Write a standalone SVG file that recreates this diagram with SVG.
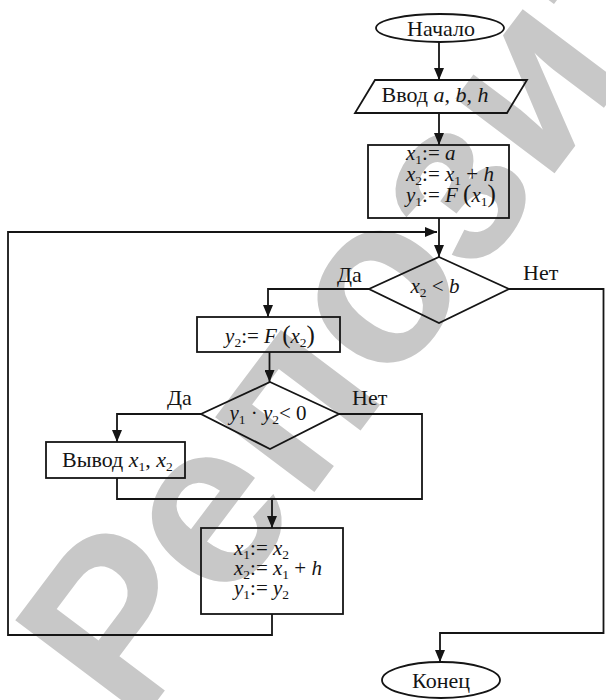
<svg xmlns="http://www.w3.org/2000/svg" width="606" height="700" viewBox="0 0 606 700">
<style>
.wm{font-family:"Liberation Sans",Arial,sans-serif;font-weight:bold;font-size:235px;fill:#c8c8c8}
.sh{fill:none;stroke:#151515;stroke-width:1.8}
.cn{fill:none;stroke:#151515;stroke-width:1.8}
text.t{font-family:"Liberation Serif","Times New Roman",serif;font-size:21px;fill:#151515}
text.l{font-size:22px}
.i{font-style:italic}
.s{font-size:13.5px}
.p{font-size:25px}
</style>
<defs>
<marker id="ah" markerUnits="userSpaceOnUse" markerWidth="12" markerHeight="10" refX="12" refY="5" orient="auto">
<path d="M0,0 L12,5 L0,10 z" fill="#151515"/>
</marker>
</defs>
<rect width="606" height="700" fill="#fff"/>
<text class="wm" transform="translate(135,730) rotate(-53)">Репозиторий БНТУ</text>
<g id="connectors">
<path class="cn" d="M439,42 V80" marker-end="url(#ah)"/>
<path class="cn" d="M439,113 V145" marker-end="url(#ah)"/>
<path class="cn" d="M439,218 V257" marker-end="url(#ah)"/>
<path class="cn" d="M272,614 V635 H8 V232 H437" marker-end="url(#ah)"/>
<path class="cn" d="M369,289 H268 V317" marker-end="url(#ah)"/>
<path class="cn" d="M509,289 H603.5 V633 H440 V662" marker-end="url(#ah)"/>
<path class="cn" d="M269.5,352 V382" marker-end="url(#ah)"/>
<path class="cn" d="M201,414 H117 V442" marker-end="url(#ah)"/>
<path class="cn" d="M339,414 H422 V499 H117 V478"/>
<path class="cn" d="M272,499 V528" marker-end="url(#ah)"/>
<text class="t l" x="337" y="282">Да</text>
<text class="t l" x="523" y="280">Нет</text>
<text class="t l" x="167" y="405">Да</text>
<text class="t l" x="352" y="405">Нет</text>
</g>
<g id="start">
<ellipse class="sh" cx="440" cy="28" rx="64" ry="14"/>
<text class="t l" x="441" y="36" text-anchor="middle">Начало</text>
</g>
<g id="input">
<polygon class="sh" points="375,80 527,80 507,113 355,113"/>
<text class="t l" x="435" y="102" text-anchor="middle">Ввод <tspan class="i">a</tspan>, <tspan class="i">b</tspan>, <tspan class="i">h</tspan></text>
</g>
<g id="init">
<rect class="sh" x="368" y="145" width="141" height="73"/>
<text class="t" x="406" y="160"><tspan class="i">x</tspan><tspan class="s" dy="4">1</tspan><tspan dy="-4">:= </tspan><tspan class="i">a</tspan></text>
<text class="t" x="406" y="181"><tspan class="i">x</tspan><tspan class="s" dy="4">2</tspan><tspan dy="-4">:= </tspan><tspan class="i">x</tspan><tspan class="s" dy="4">1</tspan><tspan dy="-4"> + </tspan><tspan class="i">h</tspan></text>
<text class="t" x="406" y="202"><tspan class="i">y</tspan><tspan class="s" dy="4">1</tspan><tspan dy="-4">:= </tspan><tspan class="i">F</tspan> <tspan class="p">(</tspan><tspan class="i">x</tspan><tspan class="s" dy="4">1</tspan><tspan class="p" dy="-4">)</tspan></text>
</g>
<g id="cond1">
<polygon class="sh" points="439,257 509,289 439,323 369,289"/>
<text class="t" x="435" y="293" text-anchor="middle"><tspan class="i">x</tspan><tspan class="s" dy="4">2</tspan><tspan dy="-4"> &lt; </tspan><tspan class="i">b</tspan></text>
</g>
<g id="calc">
<rect class="sh" x="197" y="317" width="143" height="35"/>
<text class="t" x="270" y="343" text-anchor="middle"><tspan class="i">y</tspan><tspan class="s" dy="4">2</tspan><tspan dy="-4">:= </tspan><tspan class="i">F</tspan> <tspan class="p">(</tspan><tspan class="i">x</tspan><tspan class="s" dy="4">2</tspan><tspan class="p" dy="-4">)</tspan></text>
</g>
<g id="cond2">
<polygon class="sh" points="270,382 339,414 270,449 201,414"/>
<text class="t" x="268" y="420" text-anchor="middle"><tspan class="i">y</tspan><tspan class="s" dy="4">1</tspan><tspan dy="-4"> · </tspan><tspan class="i">y</tspan><tspan class="s" dy="4">2</tspan><tspan dy="-4">&lt; 0</tspan></text>
</g>
<g id="output">
<rect class="sh" x="46" y="442" width="139" height="36"/>
<text class="t l" x="62" y="467">Вывод <tspan class="i">x</tspan><tspan class="s" dy="4">1</tspan><tspan dy="-4">,  </tspan><tspan class="i">x</tspan><tspan class="s" dy="4">2</tspan></text>
</g>
<g id="step">
<rect class="sh" x="201" y="528" width="142" height="86"/>
<text class="t" x="234" y="555"><tspan class="i">x</tspan><tspan class="s" dy="4">1</tspan><tspan dy="-4">:= </tspan><tspan class="i">x</tspan><tspan class="s" dy="4">2</tspan></text>
<text class="t" x="234" y="575"><tspan class="i">x</tspan><tspan class="s" dy="4">2</tspan><tspan dy="-4">:= </tspan><tspan class="i">x</tspan><tspan class="s" dy="4">1</tspan><tspan dy="-4"> + </tspan><tspan class="i">h</tspan></text>
<text class="t" x="234" y="595"><tspan class="i">y</tspan><tspan class="s" dy="4">1</tspan><tspan dy="-4">:= </tspan><tspan class="i">y</tspan><tspan class="s" dy="4">2</tspan></text>
</g>
<g id="end">
<ellipse class="sh" cx="441" cy="680" rx="59" ry="18"/>
<text class="t l" x="441" y="688" text-anchor="middle">Конец</text>
</g>
</svg>
